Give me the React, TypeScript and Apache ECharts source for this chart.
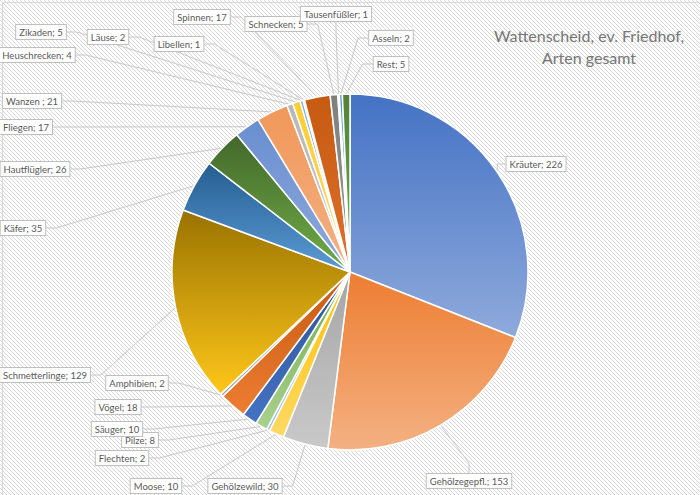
import React, { useEffect, useRef } from "react";
import * as echarts from "echarts";

const titleLines = ["Wattenscheid, ev. Friedhof,", "Arten gesamt"];

const categories = [
  "Kräuter", "Gehölzegepfl.", "Gehölzewild", "Moose", "Flechten", "Pilze",
  "Säuger", "Vögel", "Amphibien", "Schmetterlinge", "Käfer", "Hautflügler",
  "Fliegen", "Wanzen ", "Heuschrecken", "Zikaden", "Läuse", "Libellen",
  "Spinnen", "Schnecken", "Tausenfüßler", "Asseln", "Rest",
];

const values = [
  226, 153, 30, 10, 2, 8,
  10, 18, 2, 129, 35, 26,
  17, 21, 4, 5, 2, 1,
  17, 5, 1, 2, 5,
];

// slice gradient colours: [top, bottom]
const colorsTop = [
  "#4472C4", "#ED7D31", "#A5A5A5", "#FFC000", "#5B9BD5", "#70AD47",
  "#2F5597", "#C55A11", "#636363", "#997300", "#255E91", "#43682B",
  "#698ED0", "#F1975A", "#B7B7B7", "#FFCD33", "#7CAFDD", "#8CC168",
  "#C55A11", "#7F7F7F", "#9DC3E6", "#5B9BD5", "#548235",
];
const colorsBottom = [
  "#8FAADC", "#F4B183", "#C9C9C9", "#FFD966", "#9DC3E6", "#A9D18E",
  "#4472C4", "#ED7D31", "#A5A5A5", "#FFC71A", "#5B9BD5", "#70AD47",
  "#8FAADC", "#F4B183", "#C9C9C9", "#FFD966", "#9DC3E6", "#A9D18E",
  "#E0712A", "#9A9A9A", "#BDD7EE", "#7CAFDD", "#70AD47",
];

// label box centres (layout only)
const labelCenters: [number, number][] = [
  [536, 164], [469, 481], [245, 486], [156, 486], [122, 458], [140, 440],
  [117, 429], [118, 407], [137, 383], [45, 375], [23, 228], [35, 169],
  [26, 127], [32, 101], [37, 55], [41, 32], [108, 37], [179, 44],
  [202, 17], [276, 24], [336, 14], [391, 38], [391, 64],
];

const hatch =
  "url(\"data:image/svg+xml;utf8," +
  encodeURIComponent(
    "<svg xmlns='http://www.w3.org/2000/svg' width='4' height='4' shape-rendering='crispEdges'>" +
      "<rect width='4' height='4' fill='#ffffff'/>" +
      "<rect x='0' y='0' width='1' height='1' fill='#d6d6d6'/>" +
      "<rect x='1' y='1' width='1' height='1' fill='#d6d6d6'/>" +
      "<rect x='2' y='2' width='1' height='1' fill='#d6d6d6'/>" +
      "<rect x='3' y='3' width='1' height='1' fill='#d6d6d6'/>" +
      "</svg>"
  ) +
  "\")";

export default function App() {
  const ref = useRef<HTMLDivElement>(null);
  useEffect(() => {
    document.body.style.margin = "0";
    const chart = echarts.init(ref.current!, null, { renderer: "svg" });
    const data = categories.map((name, i) => ({
      name,
      value: values[i],
      itemStyle: {
        color: new echarts.graphic.LinearGradient(0, 0, 0, 1, [
          { offset: 0, color: colorsTop[i] },
          { offset: 1, color: colorsBottom[i] },
        ]),
      },
    }));
    chart.setOption({
      animation: false,
      graphic: [
        {
          type: "rect",
          left: 0,
          top: 0,
          shape: { x: 0.5, y: 0.5, width: 699, height: 494 },
          style: { fill: "none", stroke: "#d9d9d9", lineWidth: 1 },
          silent: true,
        },
        {
          type: "text",
          x: 589,
          y: 35,
          style: {
            text: titleLines[0],
            fill: "#767676",
            font: "16px Lato, 'Open Sans', sans-serif",
            align: "center",
            verticalAlign: "middle",
          },
        },
        {
          type: "text",
          x: 589,
          y: 57,
          style: {
            text: titleLines[1],
            fill: "#767676",
            font: "16px Lato, 'Open Sans', sans-serif",
            align: "center",
            verticalAlign: "middle",
          },
        },
      ],
      series: [
        {
          type: "pie",
          center: [350, 272],
          radius: 178,
          startAngle: 90,
          clockwise: true,
          avoidLabelOverlap: false,
          minShowLabelAngle: 0,
          itemStyle: { borderColor: "#ffffff", borderWidth: 1.5 },
          label: {
            show: true,
            position: "outside",
            formatter: "{b}; {c}",
            color: "#595959",
            fontFamily: "Lato, 'Open Sans', sans-serif",
            fontSize: 9.5,
            backgroundColor: "#ffffff",
            borderColor: "#bfbfbf",
            borderWidth: 1,
            padding: [2, 3, 2, 3],
          },
          labelLine: {
            show: true,
            length: 10,
            length2: 10,
            lineStyle: { color: "#c8c8c8", width: 1 },
          },
          labelLayout: (params: any) => {
            const c = labelCenters[params.dataIndex];
            return { x: c[0], y: c[1], align: "center", verticalAlign: "middle" };
          },
          emphasis: { disabled: true },
          data,
        },
      ],
    });
    return () => chart.dispose();
  }, []);
  return (
    <div
      ref={ref}
      style={{
        width: 700,
        height: 495,
        backgroundImage: hatch,
        backgroundRepeat: "repeat",
      }}
    />
  );
}
